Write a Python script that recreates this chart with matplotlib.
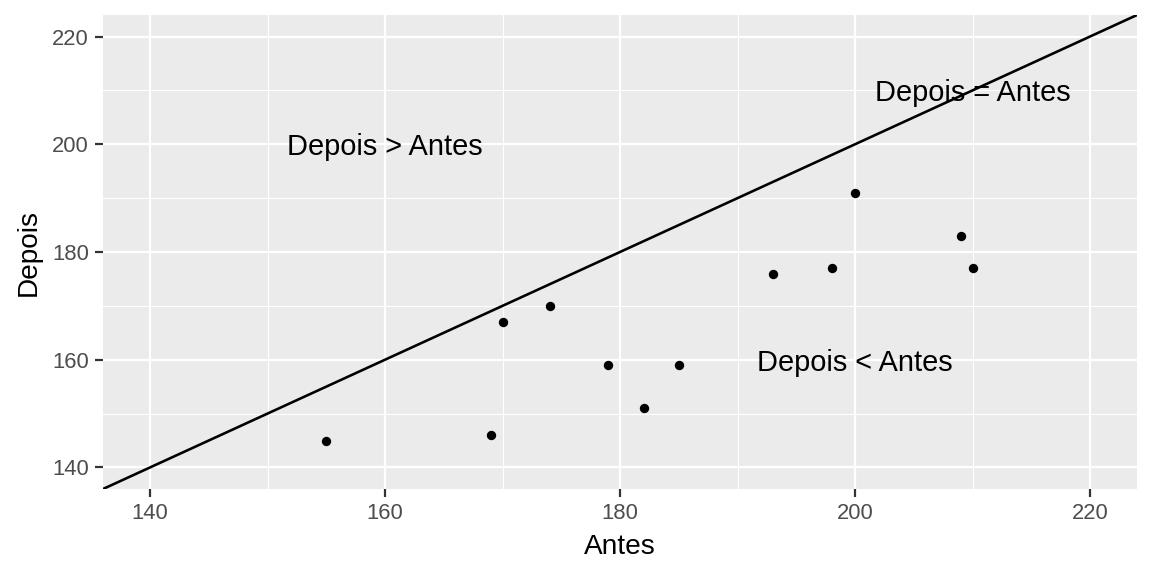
import matplotlib
matplotlib.use("Agg")
import matplotlib.pyplot as plt

antes = [155, 169, 170, 174, 179, 182, 185, 193, 198, 200, 209, 210]
depois = [145, 146, 167, 170, 159, 151, 159, 176, 177, 191, 183, 177]

labels = ["Depois > Antes", "Depois = Antes", "Depois < Antes"]
label_x = [160, 210, 200]
label_y = [200, 210, 160]

major_ticks = [140, 160, 180, 200, 220]
minor_ticks = [150, 170, 190, 210]

plt.rcParams['font.family'] = ['Liberation Sans', 'DejaVu Sans']

fig = plt.figure(figsize=(8, 4), dpi=144)
ax = fig.add_axes([103/1152, 1-489/576, (1137-103)/1152, (489-15)/576])
ax.set_facecolor('#EBEBEB')
for s in ax.spines.values():
    s.set_visible(False)

ax.set_xlim(136, 224)
ax.set_ylim(136, 224)
ax.set_xticks(major_ticks)
ax.set_yticks(major_ticks)
ax.set_xticks(minor_ticks, minor=True)
ax.set_yticks(minor_ticks, minor=True)
ax.grid(which='major', color='white', linewidth=1.1)
ax.grid(which='minor', color='white', linewidth=0.55)
ax.set_axisbelow(True)
ax.tick_params(which='major', length=4, width=1.1, color='#333333',
               labelsize=11, labelcolor='#4D4D4D', pad=3)
ax.tick_params(which='minor', length=0)

ax.axline((0, 0), slope=1, color='black', linewidth=1.3, zorder=2)
ax.scatter(antes, depois, s=22, color='black', zorder=3, linewidths=0)

for t, x, y in zip(labels, label_x, label_y):
    ax.text(x, y, t, ha='center', va='center_baseline', fontsize=14.5,
            color='black', zorder=4)

ax.set_xlabel('Antes', fontsize=14, labelpad=5)
ax.set_ylabel('Depois', fontsize=14, labelpad=5)

fig.savefig('out.png', dpi=144)
